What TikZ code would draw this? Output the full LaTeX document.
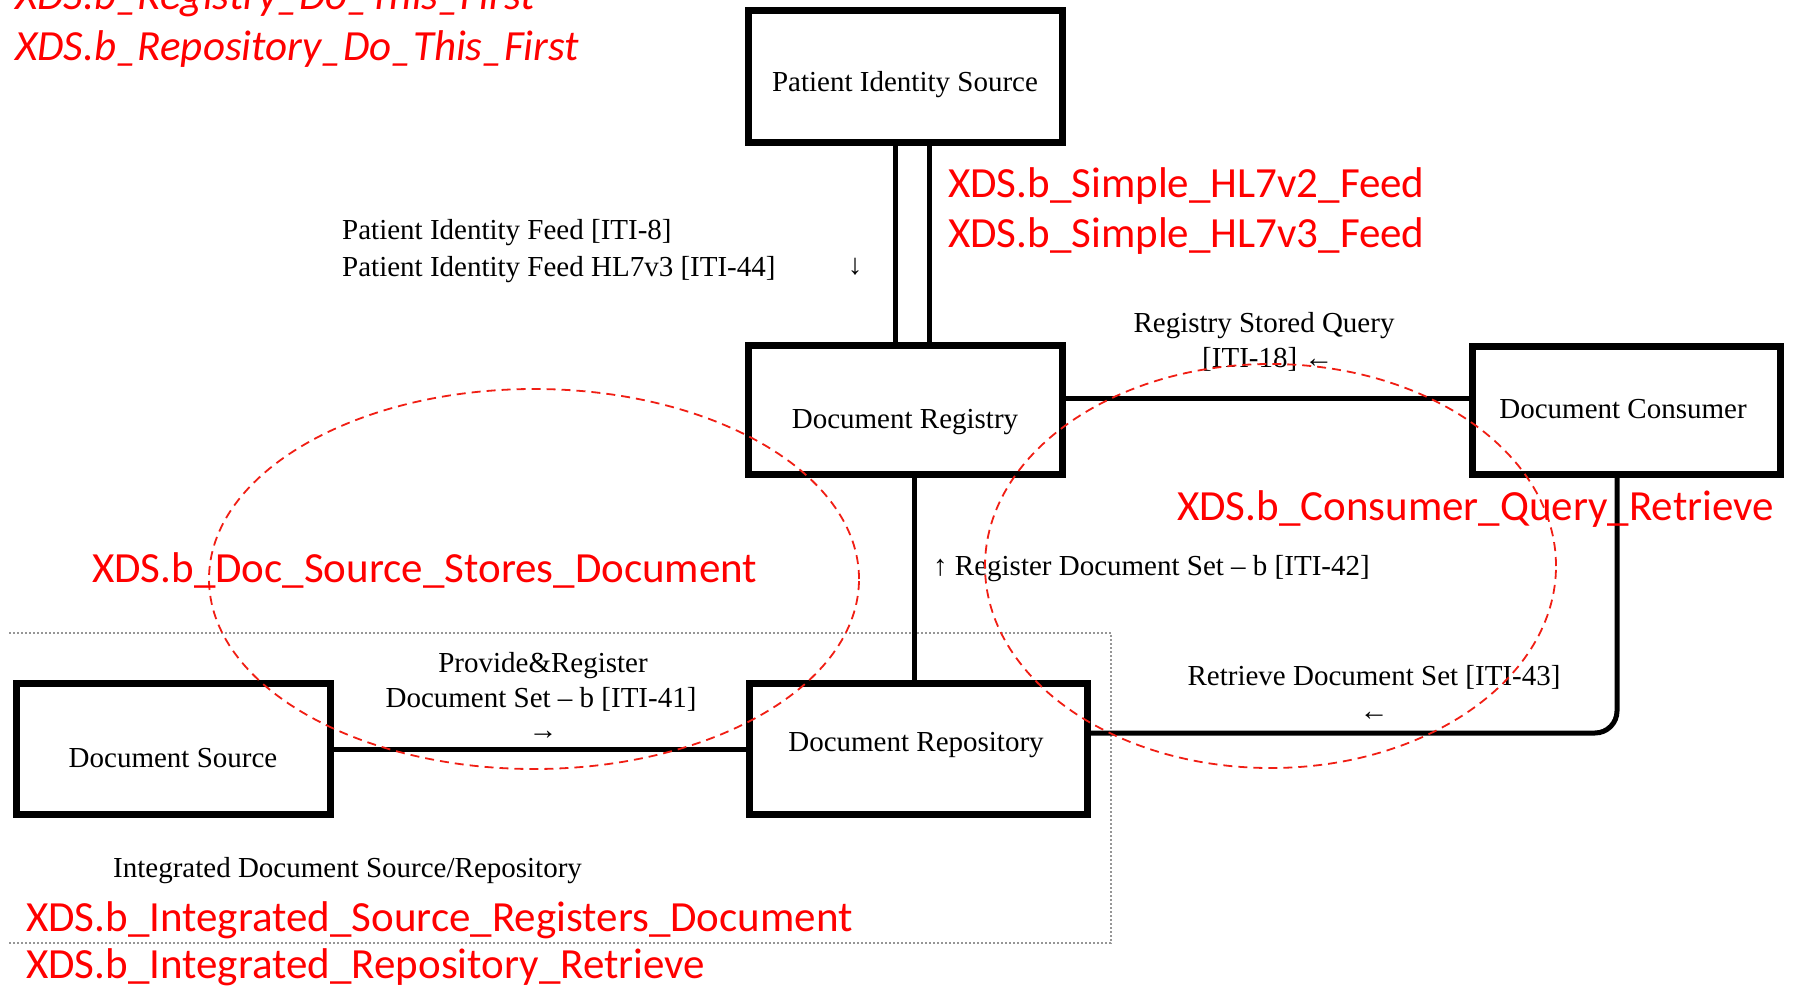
\documentclass[tikz,border=0pt]{standalone}
\usepackage{fontspec}
\setmainfont{Liberation Serif}
\newfontfamily\calfont{Carlito}
\definecolor{xred}{RGB}{255,0,0}
\definecolor{ored}{RGB}{240,30,20}
\definecolor{dotgray}{RGB}{150,150,150}
\begin{document}
\begin{tikzpicture}[x=1pt,y=-1pt,
  box/.style={draw,line width=7pt,inner sep=0pt},
  conn/.style={line width=5pt},
  lbl/.style={inner sep=0pt,font=\fontsize{29}{32}\selectfont},
  redtxt/.style={inner sep=0pt,text=xred,anchor=base west,font=\calfont\fontsize{43}{48}\selectfont},
  oval/.style={draw=ored,dash pattern=on 9pt off 6pt,line width=1.8pt},
  frame/.style={draw=dotgray,dash pattern=on 2pt off 2pt,line width=2pt}
]
\useasboundingbox (0,0) rectangle (1795,990);

% boxes
\node[box,minimum width=314pt,minimum height=132pt] (pis) at (905.5,76.5) {};
\node[box,minimum width=314pt,minimum height=129pt] (reg) at (905.5,410) {};
\node[box,minimum width=308pt,minimum height=128pt] (con) at (1626.5,410.5) {};
\node[box,minimum width=338pt,minimum height=131pt] (rep) at (918.5,749) {};
\node[box,minimum width=314pt,minimum height=131pt] (src) at (173.5,749) {};
\node[lbl,anchor=base] (pist) at (905,91) {Patient Identity Source};
\node[lbl,anchor=base] (regt) at (905,428) {Document Registry};
\node[lbl,anchor=base] (cont) at (1623,418) {Document Consumer};
\node[lbl,anchor=base] (rept) at (916,751) {Document Repository};
\node[lbl,anchor=base] (srct) at (173,767) {Document Source};

% integrated frame
\draw[frame] (9,633) -- (1111,633) -- (1111,943) -- (9,943);

% connectors
\draw[conn] ([xshift=-10.5pt]pis.south) -- ([xshift=-10.5pt]pis.south |- reg.north);
\draw[conn] ([xshift=23.5pt]pis.south) -- ([xshift=23.5pt]pis.south |- reg.north);
\draw[conn] ([yshift=12pt]reg.east) -- ([yshift=12pt]reg.east -| con.west);
\draw[conn] ([xshift=8.5pt]reg.south) -- ([xshift=8.5pt]reg.south |- rep.north);
\draw[conn] (src.east) -- (rep.west);
\draw[conn,rounded corners=22pt] ([yshift=16pt]rep.east) -| ([xshift=-9.5pt]con.south);

% labels
\node[lbl,anchor=base west] (l1) at (342,239) {Patient Identity Feed [ITI-8]};
\node[lbl,anchor=base west] (l2) at (342,276) {Patient Identity Feed HL7v3 [ITI-44]};
\node[lbl,anchor=base] (a1) at (855,274) {↓};
\node[lbl,anchor=base] (l3) at (1264,332) {Registry Stored Query};
\node[lbl,anchor=base west] (l4) at (1202,367) {[ITI-18] ←};
\node[lbl,anchor=base west] (l5) at (933,575) {↑ Register Document Set – b [ITI-42]};
\node[lbl,anchor=base] (l6) at (543,672) {Provide\&Register};
\node[lbl,anchor=base] (l7) at (541,707) {Document Set – b [ITI-41]};
\node[lbl] (a2) at (543,735) {→};
\node[lbl,anchor=base] (l8) at (1374,685) {Retrieve Document Set [ITI-43]};
\node[lbl] (a3) at (1374,716) {←};
\node[lbl,anchor=base west] (l9) at (113,877) {Integrated Document Source/Repository};

% ovals
\draw[oval] (534,579) ellipse [x radius=325pt, y radius=190pt];
\draw[oval] (1270.5,566) ellipse [x radius=285.5pt, y radius=202pt];

% red test names
\node[redtxt,font=\calfont\itshape\fontsize{43}{48}\selectfont] (r1) at (15,10) {XDS.b\_Registry\_Do\_This\_First};
\node[redtxt,font=\calfont\itshape\fontsize{43}{48}\selectfont] (r2) at (15,60) {XDS.b\_Repository\_Do\_This\_First};
\node[redtxt] (r3) at (948,197) {XDS.b\_Simple\_HL7v2\_Feed};
\node[redtxt] (r4) at (948,247) {XDS.b\_Simple\_HL7v3\_Feed};
\node[redtxt] (r5) at (1177,520) {XDS.b\_Consumer\_Query\_Retrieve};
\node[redtxt] (r6) at (92,582) {XDS.b\_Doc\_Source\_Stores\_Document};
\node[redtxt] (r7) at (26,931) {XDS.b\_Integrated\_Source\_Registers\_Document};
\node[redtxt] (r8) at (26,978) {XDS.b\_Integrated\_Repository\_Retrieve};
\end{tikzpicture}
\end{document}
